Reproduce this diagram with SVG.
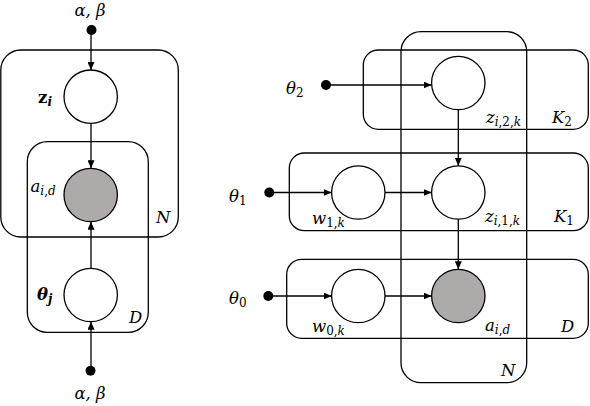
<svg xmlns="http://www.w3.org/2000/svg" width="590" height="406" viewBox="0 0 590 406">
<style>
.plate{fill:none;stroke:#000;stroke-width:1.3}
.node{fill:#fff;stroke:#000;stroke-width:1.3}
.obs{fill:#aeaaa9;stroke:#000;stroke-width:1.3}
.dot{fill:#000}
.edge{stroke:#000;stroke-width:1.3;fill:none;marker-end:url(#ah)}
text{font-family:"DejaVu Serif","Liberation Serif",serif;font-style:italic;font-size:16.5px;fill:#000}
.sub{font-size:12px}
.up{font-style:normal}
.b{font-weight:bold}
</style>
<defs>
<marker id="ah" markerUnits="userSpaceOnUse" markerWidth="8" markerHeight="7" refX="8" refY="3.5" orient="auto">
<path d="M0,0 L8,3.5 L0,7 z" fill="#000"/>
</marker>
</defs>
<rect width="590" height="406" fill="#fff"/>

<!-- plates -->
<g id="plates">
<rect id="plateN_left" class="plate" x="0.8" y="50" width="177.5" height="187" rx="20"/>
<rect id="plateD_left" class="plate" x="27.3" y="141.7" width="121" height="190.6" rx="20"/>
<rect id="plateN_right" class="plate" x="401" y="31.7" width="125.7" height="351" rx="20"/>
<rect id="plateK2" class="plate" x="363.3" y="50" width="225" height="79.3" rx="15"/>
<rect id="plateK1" class="plate" x="289.3" y="153" width="299" height="77.7" rx="15"/>
<rect id="plateD_right" class="plate" x="286.7" y="259.3" width="301.6" height="79" rx="15"/>
</g>

<!-- connectors -->
<g id="connectors">
<line class="edge" x1="91" y1="34" x2="91" y2="70"/>
<line class="edge" x1="91" y1="123.4" x2="91" y2="168.3"/>
<line class="edge" x1="91" y1="268.3" x2="91" y2="221.7"/>
<line class="edge" x1="91" y1="366" x2="91" y2="321.7"/>
<line class="edge" x1="330" y1="85" x2="431.7" y2="85"/>
<line class="edge" x1="458.3" y1="109.5" x2="458.3" y2="165.8"/>
<line class="edge" x1="273" y1="192.5" x2="331.6" y2="192.5"/>
<line class="edge" x1="385" y1="192.5" x2="431.6" y2="192.5"/>
<line class="edge" x1="458.3" y1="219.2" x2="458.3" y2="269.3"/>
<line class="edge" x1="272" y1="296" x2="331.6" y2="296"/>
<line class="edge" x1="385" y1="296" x2="431.6" y2="296"/>
</g>

<!-- left model -->
<g id="alphabeta_top">
<circle class="dot" cx="91.5" cy="30" r="5"/>
<text x="90" y="16" text-anchor="middle">α, β</text>
</g>
<g id="z_i">
<circle class="node" cx="90.7" cy="96.7" r="26.7"/>
<text x="38" y="103" class="b up">z<tspan class="sub b" dy="3" style="font-style:italic">i</tspan></text>
</g>
<g id="a_id_left">
<circle class="obs" cx="90.7" cy="195" r="26.7"/>
<text x="30.5" y="191.5">a<tspan class="sub" dy="3">i<tspan class="up">,</tspan>d</tspan></text>
</g>
<g id="theta_j">
<circle class="node" cx="90.7" cy="295" r="26.7"/>
<text x="37" y="300" class="b">θ<tspan class="sub b" dy="3">j</tspan></text>
</g>
<g id="alphabeta_bottom">
<circle class="dot" cx="90.5" cy="370.7" r="5"/>
<text x="90" y="399" text-anchor="middle">α, β</text>
</g>
<text x="156" y="222.7">N</text>
<text x="129" y="323.3">D</text>

<!-- right model -->
<g id="theta2">
<circle class="dot" cx="326" cy="85" r="5"/>
<text x="286" y="94">θ<tspan class="sub up" dy="3">2</tspan></text>
</g>
<g id="z_i2k">
<circle class="node" cx="458.3" cy="83" r="26.7"/>
<text x="486" y="123">z<tspan class="sub" dy="3">i<tspan class="up">,2,</tspan>k</tspan></text>
</g>
<g id="theta1">
<circle class="dot" cx="269.3" cy="192.5" r="5"/>
<text x="229" y="201.7">θ<tspan class="sub up" dy="3">1</tspan></text>
</g>
<g id="w_1k">
<circle class="node" cx="358.3" cy="192.5" r="26.7"/>
<text x="312" y="224">w<tspan class="sub" dy="3"><tspan class="up">1,</tspan>k</tspan></text>
</g>
<g id="z_i1k">
<circle class="node" cx="458.3" cy="192.5" r="26.7"/>
<text x="485" y="222">z<tspan class="sub" dy="3">i<tspan class="up">,1,</tspan>k</tspan></text>
</g>
<g id="theta0">
<circle class="dot" cx="268.3" cy="296" r="5"/>
<text x="229" y="304.3">θ<tspan class="sub up" dy="3">0</tspan></text>
</g>
<g id="w_0k">
<circle class="node" cx="358.3" cy="296" r="26.7"/>
<text x="312" y="332">w<tspan class="sub" dy="3"><tspan class="up">0,</tspan>k</tspan></text>
</g>
<g id="a_id_right">
<circle class="obs" cx="458.3" cy="296" r="26.7"/>
<text x="485" y="331">a<tspan class="sub" dy="3">i<tspan class="up">,</tspan>d</tspan></text>
</g>
<text x="552" y="123">K<tspan class="sub up" dy="3">2</tspan></text>
<text x="554" y="222">K<tspan class="sub up" dy="3">1</tspan></text>
<text x="561" y="332">D</text>
<text x="501" y="375.7">N</text>
</svg>
